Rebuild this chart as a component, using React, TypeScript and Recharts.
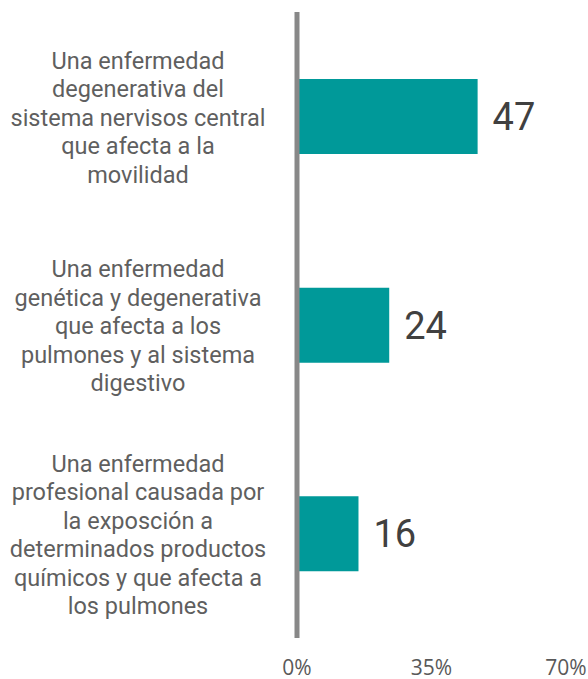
import { BarChart, Bar, XAxis, YAxis, LabelList, ReferenceLine } from "recharts";

const categories = [
  "Una enfermedad\ndegenerativa del\nsistema nervisos central\nque afecta a la\nmovilidad",
  "Una enfermedad\ngenética y degenerativa\nque afecta a los\npulmones y al sistema\ndigestivo",
  "Una enfermedad\nprofesional causada por\nla exposción a\ndeterminados productos\nquímicos y que afecta a\nlos pulmones",
];
const values = [47, 24, 16];
const xTicks = [0, 35, 70];

const data = categories.map((name, i) => ({ name, value: values[i] }));

const CategoryTick = (props: any) => {
  const { x, y, payload } = props;
  const lines: string[] = String(payload.value).split("\n");
  const lineHeight = 28.5;
  const cx = x - 151;
  return (
    <text
      textAnchor="middle"
      fill="#5f5f5f"
      fontSize={23.5}
      fontFamily="Roboto, sans-serif"
    >
      {lines.map((line, i) => (
        <tspan
          key={i}
          x={cx}
          y={y + (i - (lines.length - 1) / 2) * lineHeight + 1}
          dy="0.35em"
        >
          {line}
        </tspan>
      ))}
    </text>
  );
};

const App = () => {
  return (
    <div style={{ position: "absolute", left: 0, top: 0, background: "#fff" }}>
      <BarChart
        width={588}
        height={679}
        data={data}
        layout="vertical"
        margin={{ top: 12, right: 22, left: 0, bottom: 0 }}
      >
        <XAxis
          type="number"
          domain={[0, 70]}
          ticks={xTicks}
          tickFormatter={(v) => `${v}%`}
          axisLine={false}
          tickLine={false}
          tickMargin={16}
          height={41}
          tick={{ fill: "#595959", fontSize: 21, fontFamily: "'Open Sans', sans-serif" }}
        />
        <YAxis
          type="category"
          dataKey="name"
          width={297}
          axisLine={false}
          tickLine={false}
          tick={<CategoryTick />}
          interval={0}
        />
        <Bar dataKey="value" fill="#009999" barSize={75} isAnimationActive={false}>
          <LabelList
            dataKey="value"
            position="right"
            offset={15}
            fill="#404040"
            fontSize={38}
            fontFamily="Roboto, sans-serif"
          />
        </Bar>
        <ReferenceLine x={0} stroke="#888888" strokeWidth={5} />
      </BarChart>
    </div>
  );
};

export default App;
